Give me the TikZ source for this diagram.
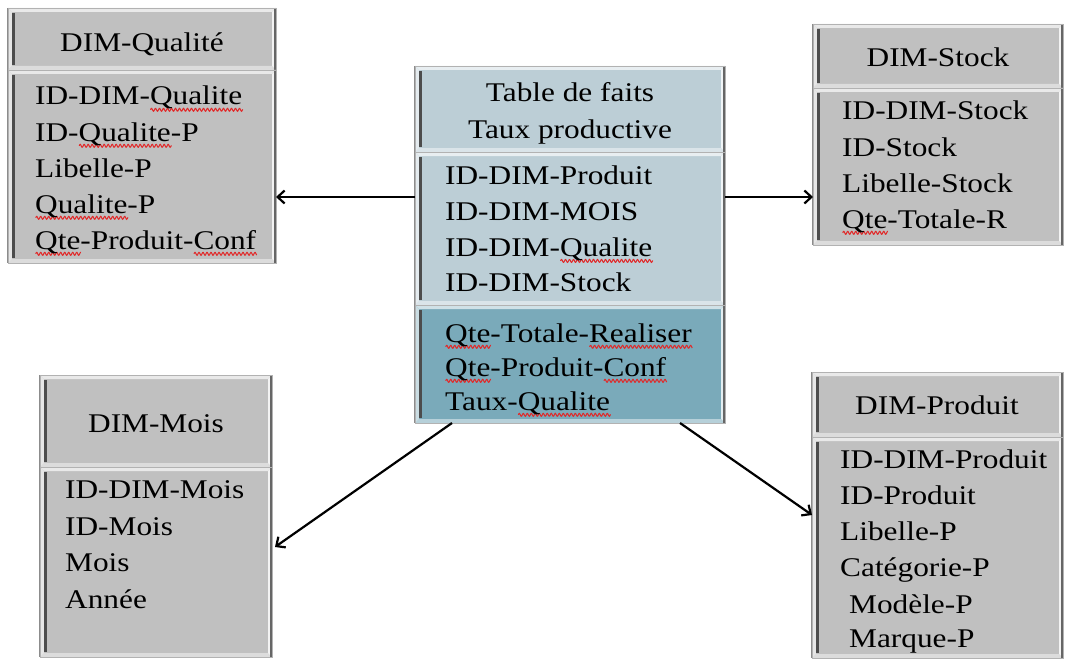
\documentclass[tikz,border=0pt]{standalone}
\usepackage{fontspec}
\setmainfont{Liberation Serif}[FakeStretch=1.16]
\usetikzlibrary{arrows.meta}

\definecolor{boxgray}{RGB}{192,192,192}
\definecolor{factlight}{RGB}{188,206,214}
\definecolor{factdark}{RGB}{122,170,186}
\definecolor{squig}{RGB}{225,40,40}

% red wavy underline (spell-check style)
\newsavebox\sqbox
\newcommand\sq[1]{\sbox\sqbox{#1}\rlap{\tikz[baseline=0pt,x=1pt,y=1pt]
  \draw[squig,line width=1pt] plot[domain=0:\the\wd\sqbox,samples=160] (\x,{-4.8+1.5*sin(\x*90)});}\usebox\sqbox}

% raised 3D frame around a section node
\newcommand\bevel[2]{%
  \fill[#2!35!white] (#1.north west) -- (#1.north east) -- ([shift={(-4,4)}]#1.north east) -- ([shift={(4,4)}]#1.north west) -- cycle;
  \fill[#2!55!white] (#1.south west) -- (#1.south east) -- ([shift={(-4,-4)}]#1.south east) -- ([shift={(4,-4)}]#1.south west) -- cycle;
  \fill[#2!40!white] (#1.north west) -- ([shift={(4,4)}]#1.north west) -- ([shift={(4,-4)}]#1.south west) -- (#1.south west) -- cycle;
  \fill[#2!20!white] (#1.north east) -- ([shift={(-4,4)}]#1.north east) -- ([shift={(-4,-4)}]#1.south east) -- (#1.south east) -- cycle;
  \draw[black!70, line width=2.6pt] ([shift={(5.5,5)}]#1.north west) -- ([shift={(5.5,-5)}]#1.south west);
  \draw[black!45, line width=1.2pt] (#1.north west) -- (#1.south west);
  \draw[black!60, line width=2.4pt] ([xshift=-1.2pt]#1.north east) -- ([xshift=-1.2pt]#1.south east);
  \draw[gray!60, line width=0.7pt] (#1.north west) rectangle (#1.south east);
}

\tikzset{
  sec/.style={anchor=north west, inner sep=0pt, outer sep=0pt, draw=none},
  txt/.style={inner sep=0pt, font=\fontsize{27pt}{35pt}\selectfont},
  item/.style={txt, anchor=base west},
  head/.style={txt, anchor=base},
  link/.style={line width=2.2pt, -{Straight Barb[length=7pt,width=13pt,line width=2.2pt]}},
}

\begin{document}
\begin{tikzpicture}[x=1pt,y=-1pt]
\useasboundingbox (0,0) rectangle (1067,658);

% section boxes
\node[sec, fill=boxgray, minimum width=268pt, minimum height=62pt]  (qt) at (8,8) {};
\node[sec, fill=boxgray, minimum width=268pt, minimum height=193pt] (qb) at (8,70) {};
\node[sec, fill=factlight, minimum width=310pt, minimum height=86pt]  (ct) at (415,66) {};
\node[sec, fill=factlight, minimum width=310pt, minimum height=153pt] (cm) at (415,152) {};
\node[sec, fill=factdark, minimum width=310pt, minimum height=118pt]  (cb) at (415,305) {};
\node[sec, fill=boxgray, minimum width=250pt, minimum height=64pt]  (st) at (813,24) {};
\node[sec, fill=boxgray, minimum width=250pt, minimum height=157pt] (sb) at (813,88) {};
\node[sec, fill=boxgray, minimum width=232pt, minimum height=92pt]  (mt) at (40,375) {};
\node[sec, fill=boxgray, minimum width=232pt, minimum height=190pt] (mb) at (40,467) {};
\node[sec, fill=boxgray, minimum width=251pt, minimum height=65pt]  (prt) at (812,372) {};
\node[sec, fill=boxgray, minimum width=251pt, minimum height=221pt] (prb) at (812,437) {};

\foreach \n/\c in {qt/boxgray,qb/boxgray,ct/factlight,cm/factlight,cb/factdark,st/boxgray,sb/boxgray,mt/boxgray,mb/boxgray,prt/boxgray,prb/boxgray}
  \bevel{\n}{\c};

% titles
\node[head] (qh)  at (142,52)  {DIM-Qualité};
\node[head] (ch1) at (570,102) {Table de faits};
\node[head] (ch2) at (570,138) {Taux productive};
\node[head] (sh)  at (938,67)  {DIM-Stock};
\node[head] (mh)  at (156,432) {DIM-Mois};
\node[head] (ph)  at (937,414) {DIM-Produit};

% attributes
\foreach \t [count=\i] in {{ID-DIM-\sq{Qualite}},{ID-\sq{Qualite}-P},{Libelle-P},{\sq{Qualite}-P},{\sq{Qte}-Produit-\sq{Conf}}}
  \node[item] (qa\i) at (35,{69+36*\i}) {\t};
\foreach \t [count=\i] in {{ID-DIM-Produit},{ID-DIM-MOIS},{ID-DIM-\sq{Qualite}},{ID-DIM-Stock}}
  \node[item] (ca\i) at (445,{149+35.7*\i}) {\t};
\foreach \t [count=\i] in {{\sq{Qte}-Totale-\sq{Realiser}},{\sq{Qte}-Produit-\sq{Conf}},{Taux-\sq{Qualite}}}
  \node[item] (cf\i) at (445,{308+34*\i}) {\t};
\foreach \t [count=\i] in {{ID-DIM-Stock},{ID-Stock},{Libelle-Stock},{\sq{Qte}-Totale-R}}
  \node[item] (sa\i) at (842,{84+36*\i}) {\t};
\foreach \t [count=\i] in {{ID-DIM-Mois},{ID-Mois},{Mois},{Année}}
  \node[item] (ma\i) at (65,{462+36.5*\i}) {\t};
\foreach \t [count=\i] in {{ID-DIM-Produit},{ID-Produit},{Libelle-P},{Catégorie-P}}
  \node[item] (pa\i) at (840,{432+36*\i}) {\t};
\node[item] (pa5) at (849,613) {Modèle-P};
\node[item] (pa6) at (849,647) {Marque-P};

% links from the fact table to the dimensions
\draw[link] (cm.west |- 0,197) -- (qb.east |- 0,197);
\draw[link] (cm.east |- 0,197) -- (sb.west |- 0,197);
\draw[link] ([xshift=37pt]cb.south west) -- ([xshift=3pt]mb.east |- 0,547);
\draw[link] ([xshift=-45pt]cb.south east) -- (prb.west |- 0,515);
\end{tikzpicture}
\end{document}
